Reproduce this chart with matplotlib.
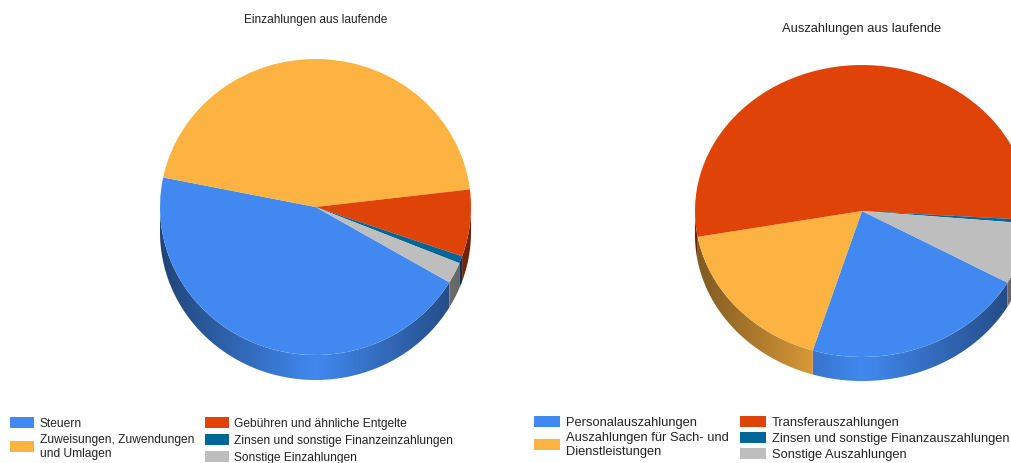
import numpy as np
import matplotlib
matplotlib.use('Agg')
import matplotlib.pyplot as plt
from matplotlib.patches import Rectangle, Polygon

plt.rcParams['font.family'] = ['Liberation Sans', 'DejaVu Sans']

W, H = 1011, 463

# slice colours, same order in both pies
colors = ['#4189F0', '#FDB341', '#E04308', '#046696', '#BEBEBE']

# left pie
in_title = 'Einzahlungen aus laufende'
in_labels = ['Steuern', 'Zuweisungen, Zuwendungen\nund Umlagen', 'Gebühren und ähnliche Entgelte',
             'Zinsen und sonstige Finanzeinzahlungen', 'Sonstige Einzahlungen']
in_values = [44.7, 44.9, 7.3, 0.8, 2.3]

# right pie
out_title = 'Auszahlungen aus laufende'
out_labels = ['Personalauszahlungen', 'Auszahlungen für Sach- und\nDienstleistungen', 'Transferauszahlungen',
              'Zinsen und sonstige Finanzauszahlungen', 'Sonstige Auszahlungen']
out_values = [21.6, 17.4, 53.8, 0.4, 6.8]


# draws a pie with an elliptic top and a shaded wall below it, sizes in pixels
def pie3d(values, startangle, cx, cy, rx, ry, depth):
    d = depth / ry
    ax = fig.add_axes([(cx - rx) / W, 1 - (cy + ry + depth) / H, 2 * rx / W, (2 * ry + depth) / H])
    edges = startangle - np.cumsum([0] + values) / sum(values) * 360
    # wall gets darker from the front towards the sides
    fade = 1 - 0.5 * np.abs(np.linspace(-1, 1, 256))
    for i in range(len(values)):
        a = np.radians(np.append(np.arange(edges[i + 1], edges[i], 0.25), edges[i]))
        front = np.flatnonzero(np.sin(a) <= 0.005)
        if len(front) == 0:
            continue
        rgb = np.array(matplotlib.colors.to_rgb(colors[i]))
        # one slice can show on both sides of the pie
        for run in np.split(front, np.flatnonzero(np.diff(front) > 1) + 1):
            t = a[run]
            xs = np.concatenate([np.cos(t), np.cos(t[::-1])])
            ys = np.concatenate([np.sin(t), np.sin(t[::-1]) - d])
            img = ax.imshow(np.outer(fade, rgb).reshape(1, 256, 3), extent=[-1, 1, -1 - d, 1], aspect='auto',
                            interpolation='bilinear', zorder=1)
            img.set_clip_path(Polygon(np.column_stack([xs, ys]), transform=ax.transData))
    ax.pie(values, colors=colors, startangle=startangle, counterclock=False, radius=1,
           wedgeprops={'linewidth': 0, 'zorder': 2})
    ax.set_aspect('auto')
    ax.set_xlim(-1, 1)
    ax.set_ylim(-1 - d, 1)
    ax.axis('off')
    return ax


# legend entries in pixel positions
def legend(labels, box_x, box_y, box_w, text_x, text_y, size):
    for i in range(len(labels)):
        bg.add_patch(Rectangle((box_x[i], box_y[i]), box_w, 11, color=colors[i], lw=0))
        bg.text(text_x[i], text_y[i], labels[i], fontsize=size, va='center', ha='left', color='#222222',
                linespacing=1.25)


fig = plt.figure(figsize=(W / 100, H / 100), dpi=100)
bg = fig.add_axes([0, 0, 1, 1])
bg.set_xlim(0, W)
bg.set_ylim(H, 0)
bg.axis('off')

pie3d(in_values, -30.6, 315.5, 207, 155.5, 148, 25)
pie3d(out_values, -29.4, 862, 211, 167, 146, 24)

bg.text(315.5, 20.5, in_title, fontsize=8.6, ha='center', va='center', color='#222222')
bg.text(861.5, 29, out_title, fontsize=9.3, ha='center', va='center', color='#222222')

legend(in_labels, [10, 10, 205, 205, 205], [417, 441, 417, 434, 451], 24,
       [40, 40, 234, 234, 234], [424, 447, 424, 441, 458], 8.65)
legend(out_labels, [534, 534, 740, 740, 740], [416, 439, 416, 432, 448], 26,
       [566, 566, 772, 772, 772], [423, 445, 423, 439, 455], 9.25)

fig.savefig('out.png', dpi=100)
